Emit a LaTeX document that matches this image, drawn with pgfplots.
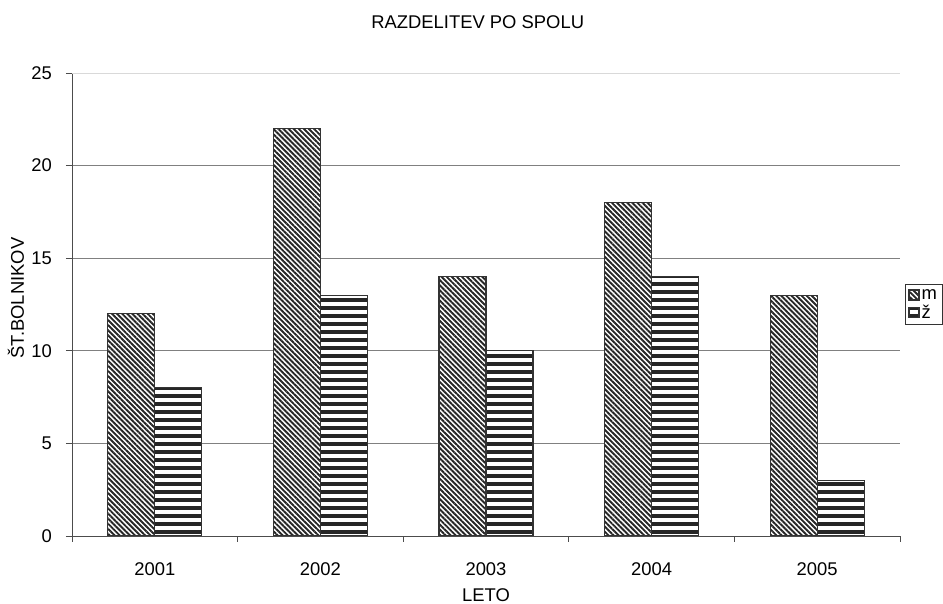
\documentclass[border=0pt]{standalone}
\usepackage{pgfplots}
\pgfplotsset{compat=1.18}
\usepackage{fontspec}
\setmainfont{Liberation Sans}
\usetikzlibrary{patterns.meta}
\tikzset{
  mpat/.style={pattern={Lines[angle=-45,distance=3.6pt,line width=1.9pt]}, pattern color=black!85, preaction={fill=white}, draw=black!80, line width=1.3pt},
  zpat/.style={pattern={Lines[angle=0,distance=8pt,line width=4.8pt]}, pattern color=black!85, preaction={fill=white}, draw=black!80, line width=1.3pt},
}
\pgfplotsset{sqlegend/.style={legend image code/.code={\draw[##1] (0pt,-5pt) rectangle (10pt,5pt);}}}
\begin{document}
\begin{tikzpicture}[font=\fontsize{18.4}{22}\selectfont]
\begin{axis}[
  at={(0,0)}, anchor=south west,
  scale only axis, width=828pt, height=463pt,
  ymin=0, ymax=25, xmin=-0.5, xmax=4.5,
  ybar=0pt, bar width=47pt,
  axis x line*=bottom, axis y line*=left,
  axis line style={black!70, line width=0.9pt},
  /pgf/number format/assume math mode=true,
  ytick={0,5,10,15,20},
  extra y ticks={25},
  extra y tick style={grid style={black!15, line width=0.9pt}},
  ymajorgrids, grid style={black!50, line width=0.9pt},
  xtick={0,1,2,3,4},
  xticklabels={2001,2002,2003,2004,2005},
  minor xtick={-0.5,0.5,1.5,2.5,3.5,4.5},
  every major x tick/.append style={draw=none},
  tick align=outside, major tick length=6pt, minor tick length=6pt,
  tick style={black!70, line width=0.9pt},
  xticklabel style={anchor=center, yshift=-27pt},
  yticklabel style={anchor=east, inner sep=0pt, xshift=-14pt},
  title={RAZDELITEV PO SPOLU},
  title style={at={(axis description cs:0.49,1.097)}, anchor=center},
  xlabel={LETO},
  xlabel style={at={(axis description cs:0.5,-0.128)}, anchor=center},
  ylabel={ŠT.BOLNIKOV},
  ylabel style={at={(axis description cs:-0.0676,0.514)}, anchor=center},
  legend style={at={(axis description cs:1.006,0.5)}, anchor=west, draw=black!80, line width=0.6pt, inner sep=3pt, row sep=0pt, legend cell align=left, font=\fontsize{18.4}{22}\selectfont},
]
\addplot[mpat, sqlegend] coordinates {(0,12) (1,22) (2,14) (3,18) (4,13)};
\addplot[zpat, sqlegend] coordinates {(0,8) (1,13) (2,10) (3,14) (4,3)};
\legend{m,ž}
\end{axis}
\pgfresetboundingbox
\useasboundingbox (-72pt,-68pt) rectangle (871pt,536pt);
\end{tikzpicture}
\end{document}
